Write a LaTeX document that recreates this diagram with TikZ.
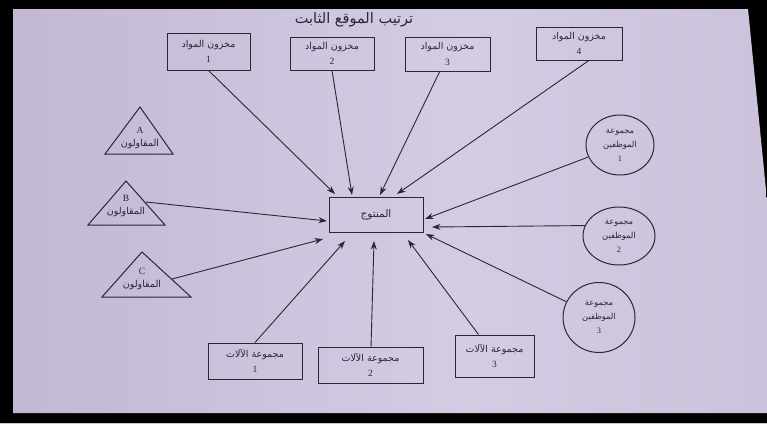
\documentclass[tikz,border=0pt]{standalone}
\usepackage{fontspec}
\setmainfont{Liberation Serif}
\newfontfamily\arabicfont[Script=Arabic]{DejaVu Sans}
\TeXXeTstate=1
\usetikzlibrary{shapes.geometric,arrows.meta}
\newcommand\artxt[1]{{\arabicfont\beginR #1\endR}}
\definecolor{ink}{RGB}{44,38,50}
\pgfdeclarehorizontalshading{pagefade}{100bp}{rgb(0bp)=(0.64,0.57,0.72); rgb(18bp)=(0.75,0.70,0.82); rgb(55bp)=(0.83,0.80,0.89); rgb(100bp)=(0.76,0.71,0.82)}
\tikzset{
  box/.style={draw=ink, line width=1pt, rectangle, align=center, inner sep=2pt,
    font=\fontsize{9.5}{15.5}\selectfont, text=ink},
  grp/.style={draw=ink, line width=1pt, ellipse, align=center, inner sep=0pt,
    font=\fontsize{8.3}{14}\selectfont, text=ink},
  tri/.style={draw=ink, line width=1pt, line join=miter},
  trilabel/.style={text=ink, font=\fontsize{9.5}{15}\selectfont},
  arr/.style={draw=ink, line width=0.9pt, -{Stealth[length=8.5pt,width=6pt]}}
}
\begin{document}
\begin{tikzpicture}[x=1pt,y=-1pt]
\useasboundingbox (0,0) rectangle (767,424);
% frame and page
\fill[black] (0,0) rectangle (767,423);
\fill[gray!45] (0,423) rectangle (767,424);
\shade[shading=pagefade] (13,9) -- (748,9) -- (767,200) -- (767,413) -- (13,413) -- cycle;

% title
\node[text=ink, font=\fontsize{14.5}{17}\selectfont] (title) at (354,20) {\artxt{ترتيب الموقع الثابت}};

% material stocks
\node[box, minimum width=83, minimum height=37] (m1) at (208.5,51.5) {\artxt{مخزون المواد}\\1};
\node[box, minimum width=84, minimum height=33] (m2) at (332,53.5) {\artxt{مخزون المواد}\\2};
\node[box, minimum width=85, minimum height=34] (m3) at (447.5,54) {\artxt{مخزون المواد}\\3};
\node[box, minimum width=86, minimum height=33] (m4) at (579,43.5) {\artxt{مخزون المواد}\\4};

% product
\node[box, minimum width=94, minimum height=35, font=\fontsize{10.5}{12}\selectfont] (prod) at (376,214.5) {\artxt{المنتوج}};

% staff groups
\node[grp, minimum width=68, minimum height=60] (e1) at (620,145) {\artxt{مجموعة}\\\artxt{الموظفين}\\1};
\node[grp, minimum width=72, minimum height=58] (e2) at (619,236) {\artxt{مجموعة}\\\artxt{الموظفين}\\2};
\node[grp, minimum width=72, minimum height=70] (e3) at (599,317.5) {\artxt{مجموعة}\\\artxt{الموظفين}\\3};

% machine groups
\node[box, minimum width=94, minimum height=36] (k1) at (255,361) {\artxt{مجموعة الآلات}\\1};
\node[box, minimum width=105, minimum height=36] (k2) at (370.5,365) {\artxt{مجموعة الآلات}\\2};
\node[box, minimum width=79, minimum height=42] (k3) at (494.5,356) {\artxt{مجموعة الآلات}\\3};

% contractors
\draw[tri] (140,107) -- (173,154) -- (105,154) -- cycle;
\node[trilabel, align=center] (cA) at (140,138) {A\\[-2pt]\artxt{المقاولون}};
\draw[tri] (126,181) -- (165,225) -- (88,225) -- cycle;
\node[trilabel, align=center] (cB) at (126,206) {B\\[-2pt]\artxt{المقاولون}};
\draw[tri] (142,252) -- (191,297) -- (102,297) -- cycle;
\node[trilabel, align=center] (cC) at (142,279) {C\\[-2pt]\artxt{المقاولون}};
\coordinate (Bout) at (146,202);
\coordinate (Cout) at (172,279);

% arrow tips around the product
\coordinate (t1) at (335,194);
\coordinate (t2) at (352,195);
\coordinate (t3) at (380,195);
\coordinate (t4) at (397,194);
\coordinate (t5) at (425,219);
\coordinate (t6) at (432,227);
\coordinate (t7) at (426,234);
\coordinate (t8) at (408,240);
\coordinate (t9) at (374,241);
\coordinate (t10) at (345,241);
\coordinate (t11) at (323,239);
\coordinate (t12) at (327,221);

% flows into the product
\draw[arr] (m1.south) -- (t1);
\draw[arr] (m2.south) -- (t2);
\draw[arr] (m3.-114) -- (t3);
\draw[arr] (m4.-60) -- (t4);
\draw[arr] (e1) -- (t5);
\draw[arr] (e2.163) -- (t6);
\draw[arr] (e3) -- (t7);
\draw[arr] (k3) -- (t8);
\draw[arr] (k2) -- (t9);
\draw[arr] (k1.north) -- (t10);
\draw[arr] (Cout) -- (t11);
\draw[arr] (Bout) -- (t12);
\end{tikzpicture}
\end{document}
